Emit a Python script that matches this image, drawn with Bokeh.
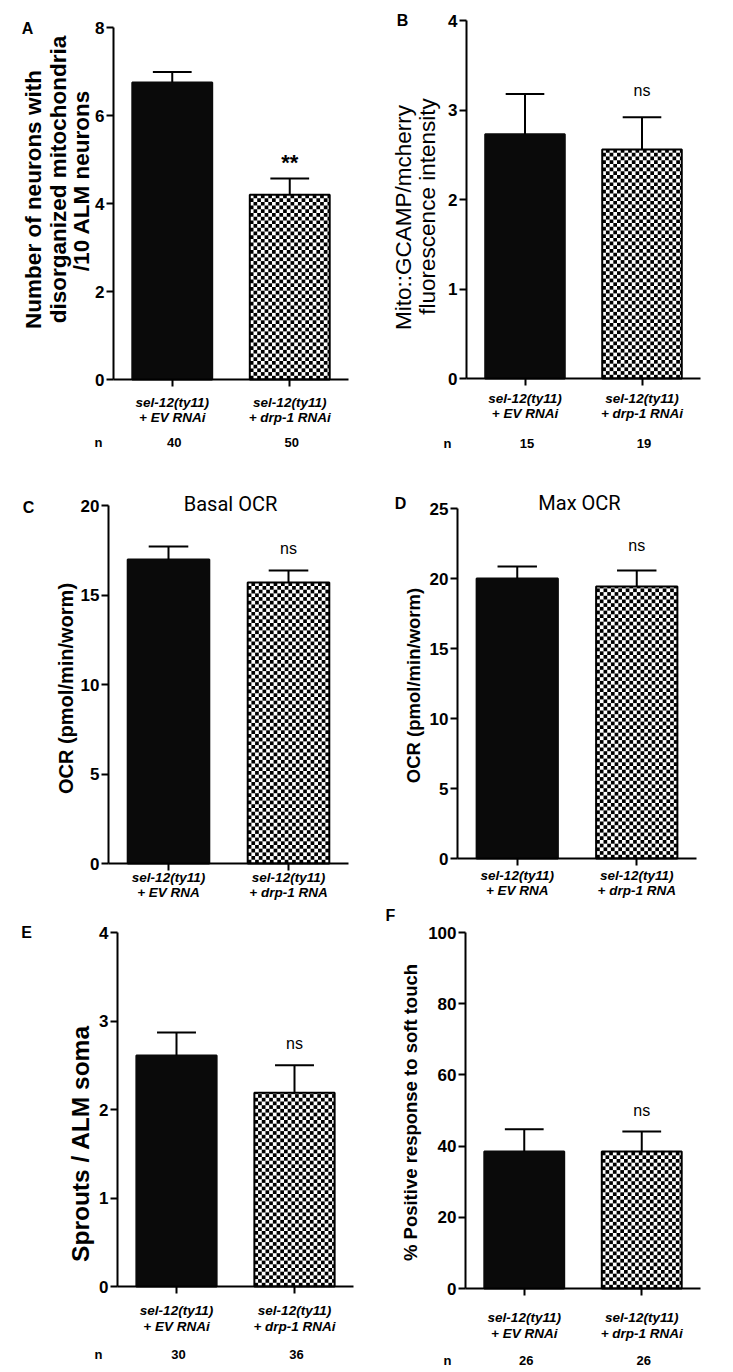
import math
from bokeh.plotting import figure
from bokeh.models import Label, FixedTicker, LinearAxis
from bokeh.layouts import column, row
from bokeh.embed import file_html
from bokeh.resources import INLINE

# ---------------- data ----------------
positions = [1, 2]
cat_line1 = ["sel-12(ty11)", "sel-12(ty11)"]
cat_line2_rnai = ["+ EV RNAi", "+ drp-1 RNAi"]
cat_line2_rna = ["+ EV RNA", "+ drp-1 RNA"]

a_mean = [6.75, 4.20]
a_err = [0.24, 0.37]
a_n = ["40", "50"]
a_sig = "**"

b_mean = [2.73, 2.56]
b_err = [0.45, 0.36]
b_n = ["15", "19"]
b_sig = "ns"

c_mean = [16.98, 15.70]
c_err = [0.73, 0.67]
c_sig = "ns"

d_mean = [20.0, 19.43]
d_err = [0.86, 1.14]
d_sig = "ns"

e_mean = [2.61, 2.19]
e_err = [0.26, 0.31]
e_n = ["30", "36"]
e_sig = "ns"

f_mean = [38.5, 38.5]
f_err = [6.2, 5.6]
f_n = ["26", "26"]
f_sig = "ns"

a_ticks = [0, 2, 4, 6, 8]
b_ticks = [0, 1, 2, 3, 4]
c_ticks = [0, 5, 10, 15, 20]
d_ticks = [0, 5, 10, 15, 20, 25]
e_ticks = [0, 1, 2, 3, 4]
f_ticks = [0, 20, 40, 60, 80, 100]

FONT = "Liberation Sans"
BAR_W = 0.68
CELL_PX = 3.7


def make_panel(spec, means, errs, ticks, sig, sig_off, cat2, nvals=None):
    ox, oy, w, h = spec["box"]
    FL, FT, FR, FB = spec["frame"]
    ymax = ticks[-1]
    sx = (FR - FL) / 2.0          # px per x unit (0.5 .. 2.5)
    sy = (FB - FT) / float(ymax)  # px per y unit
    x_range = (0.5 - (FL - ox) / sx, 2.5 + (ox + w - FR) / sx)
    y_range = (-(oy + h - FB) / sy, ymax + (FT - oy) / sy)

    p = figure(width=w, height=h, x_range=x_range, y_range=y_range,
               x_axis_type=None, y_axis_type=None,
               output_backend="svg", toolbar_location=None, min_border=0)
    p.outline_line_color = None
    p.background_fill_color = "white"
    p.border_fill_color = "white"

    yax = LinearAxis(fixed_location=0.5, bounds=(0, ymax), ticker=FixedTicker(ticks=ticks))
    xax = LinearAxis(fixed_location=0, bounds=(0.5, 2.5), ticker=FixedTicker(ticks=positions),
                     major_label_overrides={1: " ", 2: " "})
    for ax in (xax, yax):
        ax.axis_line_width = 2
        ax.axis_line_color = "black"
        ax.major_tick_line_width = 2
        ax.major_tick_line_color = "black"
        ax.major_tick_out = 7
        ax.major_tick_in = 0
        ax.minor_tick_line_color = None
    yax.major_label_text_font = FONT
    yax.major_label_text_font_style = "bold"
    yax.major_label_text_font_size = "17px"
    yax.major_label_text_color = "black"
    yax.major_label_standoff = 2
    p.add_layout(yax, "left")
    p.add_layout(xax, "below")

    # bar 1: solid black
    p.vbar(x=positions[:1], top=means[:1], width=BAR_W, bottom=0,
           fill_color="#0a0a0a", line_color="#0a0a0a", line_width=2)
    # bar 2: checkerboard
    p.vbar(x=positions[1:], top=means[1:], width=BAR_W, bottom=0,
           fill_color="white", line_color=None)
    dx, dy = CELL_PX / sx, CELL_PX / sy
    xc, top = positions[1], means[1]
    left_edge, right_edge = xc - BAR_W / 2, xc + BAR_W / 2
    nx = int(math.ceil((right_edge - left_edge) / dx))
    ny = int(math.ceil(top / dy))
    L, R, B, T = [], [], [], []
    for i in range(nx):
        for j in range(ny):
            if (i + j) % 2 == 0:
                l = left_edge + i * dx
                b = j * dy
                L.append(l)
                R.append(min(l + dx, right_edge))
                B.append(b)
                T.append(min(b + dy, top))
    p.quad(left=L, right=R, bottom=B, top=T, fill_color="black", line_color=None)
    p.vbar(x=positions[1:], top=means[1:], width=BAR_W, bottom=0,
           fill_color=None, line_color="black", line_width=2)

    # error bars (upper)
    tops = [m + e for m, e in zip(means, errs)]
    p.segment(x0=positions, y0=means, x1=positions, y1=tops,
              line_color="black", line_width=2)
    p.segment(x0=[x - 0.165 for x in positions], y0=tops,
              x1=[x + 0.165 for x in positions], y1=tops,
              line_color="black", line_width=2)

    def page_label(px, py, text, size, style="bold", angle=0, font=FONT):
        p.add_layout(Label(x=0.5, y=ymax, x_offset=px - FL, y_offset=FT - py,
                           text=text, text_font=font, text_font_size=f"{size}px",
                           text_font_style=style, text_align="center",
                           text_baseline="middle", angle=angle, text_color="black"))

    # significance label
    sig_size = 22 if sig == "**" else 16
    sig_style = "bold" if sig == "**" else "normal"
    p.add_layout(Label(x=positions[1], y=tops[1], y_offset=sig_off, text=sig,
                       text_font=FONT, text_font_size=f"{sig_size}px",
                       text_font_style=sig_style, text_align="center",
                       text_baseline="middle", text_color="black"))

    # category labels
    l1y, l2y = spec["cat_y"]
    for i, x in enumerate(positions):
        for txt, py in ((cat_line1[i], l1y), (cat2[i], l2y)):
            p.add_layout(Label(x=x, y=0, y_offset=FB - py, text=txt,
                               text_font=FONT, text_font_size="13.5px",
                               text_font_style="bold italic", text_align="center",
                               text_baseline="middle", text_color="black"))
    # n row
    if nvals is not None:
        ny_, nx_ = spec["n_row"]
        page_label(nx_, ny_, "n", 13)
        for i, x in enumerate(positions):
            p.add_layout(Label(x=x, y=0, x_offset=2, y_offset=FB - ny_, text=nvals[i],
                               text_font=FONT, text_font_size="13px",
                               text_font_style="bold", text_align="center",
                               text_baseline="middle", text_color="black"))
    # panel letter
    lx, ly = spec["letter_pos"]
    page_label(lx, ly, spec["letter"], 16)
    # y title lines
    for txt, (tx, ty) in zip(spec["ytitle"], spec["ytitle_xy"]):
        page_label(tx, ty, txt, spec["ytitle_size"], style=spec["ytitle_style"],
                   angle=math.pi / 2)
    # top title
    if spec.get("title"):
        tx, tyy = spec["title_pos"]
        page_label(tx, tyy, spec["title"], 20, style="normal", font="Roboto")
    return p


specs = {
    "A": dict(box=(0, 0, 366, 455), frame=(113, 27, 348, 379), letter="A", letter_pos=(27, 28),
              ytitle=["Number of neurons with", "disorganized mitochondria", "/10 ALM neurons"],
              ytitle_xy=[(33, 199), (58, 179), (81, 180)], ytitle_size=22.5, ytitle_style="bold",
              cat_y=(402, 417), n_row=(442, 98)),
    "B": dict(box=(366, 0, 367, 455), frame=(466, 20, 700, 378), letter="B", letter_pos=(402, 20),
              ytitle=["Mito::GCAMP/mcherry", "fluorescence intensity"],
              ytitle_xy=[(403, 217), (427, 206)], ytitle_size=22.5, ytitle_style="normal",
              cat_y=(398, 413), n_row=(443, 447)),
    "C": dict(box=(0, 455, 366, 450), frame=(108, 505, 348, 863), letter="C", letter_pos=(28, 507),
              ytitle=["OCR (pmol/min/worm)"], ytitle_xy=[(65, 688)], ytitle_size=20,
              ytitle_style="bold", cat_y=(877, 892), title="Basal OCR", title_pos=(230, 503)),
    "D": dict(box=(366, 455, 367, 450), frame=(457, 508, 696, 858), letter="D", letter_pos=(400, 503),
              ytitle=["OCR (pmol/min/worm)"], ytitle_xy=[(413, 685)], ytitle_size=18.5,
              ytitle_style="bold", cat_y=(875, 890), title="Max OCR", title_pos=(579, 502)),
    "E": dict(box=(0, 905, 366, 466), frame=(117, 932, 353, 1286), letter="E", letter_pos=(26, 932),
              ytitle=["Sprouts / ALM soma"], ytitle_xy=[(80, 1143)], ytitle_size=24.5,
              ytitle_style="bold", cat_y=(1310, 1326), n_row=(1354, 98)),
    "F": dict(box=(366, 905, 367, 466), frame=(465, 932, 700, 1288), letter="F", letter_pos=(390, 915),
              ytitle=["% Positive response to soft touch"], ytitle_xy=[(410, 1112)],
              ytitle_size=18.5, ytitle_style="bold", cat_y=(1317, 1333), n_row=(1360, 447)),
}

pA = make_panel(specs["A"], a_mean, a_err, a_ticks, a_sig, 16, cat_line2_rnai, a_n)
pB = make_panel(specs["B"], b_mean, b_err, b_ticks, b_sig, 27, cat_line2_rnai, b_n)
pC = make_panel(specs["C"], c_mean, c_err, c_ticks, c_sig, 22, cat_line2_rna)
pD = make_panel(specs["D"], d_mean, d_err, d_ticks, d_sig, 25, cat_line2_rna)
pE = make_panel(specs["E"], e_mean, e_err, e_ticks, e_sig, 22, cat_line2_rnai, e_n)
pF = make_panel(specs["F"], f_mean, f_err, f_ticks, f_sig, 21, cat_line2_rnai, f_n)

layout = column(row(pA, pB, spacing=0), row(pC, pD, spacing=0), row(pE, pF, spacing=0), spacing=0)

open("out.html", "w").write(file_html(layout, INLINE))
